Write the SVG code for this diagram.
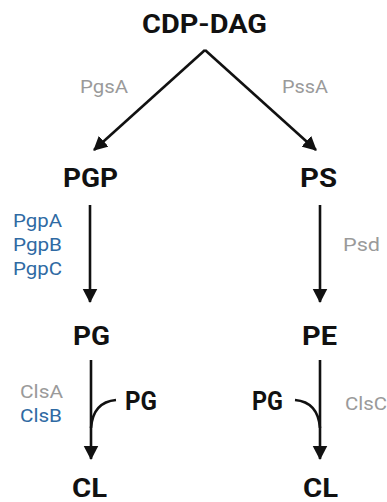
<svg xmlns="http://www.w3.org/2000/svg" width="387" height="502" viewBox="0 0 387 502">
<style>
text{font-family:Roboto,"Liberation Sans",sans-serif}
.n{font-weight:bold;fill:#111;text-anchor:middle;font-size:25px}
.g{fill:#9a9a9a;font-size:18px}
.b{fill:#2f6aa3;font-size:18px}
.ln{fill:none;stroke:#111;stroke-width:2.6}
</style>
<defs>
<marker id="ah" markerWidth="6" markerHeight="6" refX="5" refY="3" orient="auto" markerUnits="strokeWidth"><path d="M0,0.2 L5.4,3 L0,5.8 Z" fill="#111"/></marker>
<linearGradient id="gl" gradientUnits="userSpaceOnUse" x1="205" y1="50" x2="92" y2="152"><stop offset="0" stop-color="#111" stop-opacity="0"/><stop offset="0.45" stop-color="#111"/></linearGradient>
<linearGradient id="gr" gradientUnits="userSpaceOnUse" x1="205" y1="50" x2="318" y2="152"><stop offset="0" stop-color="#111" stop-opacity="0"/><stop offset="0.45" stop-color="#111"/></linearGradient>
<linearGradient id="cl" gradientUnits="userSpaceOnUse" x1="116" y1="400" x2="92" y2="425"><stop offset="0" stop-color="#111" stop-opacity="0.2"/><stop offset="0.6" stop-color="#111"/></linearGradient>
<linearGradient id="cr" gradientUnits="userSpaceOnUse" x1="295" y1="400" x2="320" y2="425"><stop offset="0" stop-color="#111" stop-opacity="0.2"/><stop offset="0.6" stop-color="#111"/></linearGradient>
</defs>
<g id="connectors">
<path class="ln" d="M205,50 L94,150" stroke="url(#gl)" marker-end="url(#ah)"/>
<path class="ln" d="M205,50 L316,150" stroke="url(#gr)" marker-end="url(#ah)"/>
<path class="ln" d="M90,205 L90,302" marker-end="url(#ah)"/>
<path class="ln" d="M320,205 L320,302" marker-end="url(#ah)"/>
<path class="ln" d="M91,360 L91,459" marker-end="url(#ah)"/>
<path class="ln" d="M320,360 L320,459" marker-end="url(#ah)"/>
<path class="ln" d="M116,400 Q93,402 91,428" stroke="url(#cl)"/>
<path class="ln" d="M295,400 Q318,402 320,428" stroke="url(#cr)"/>
</g>
<g id="n-cdpdag"><text class="n" x="204.5" y="33" font-size="26" textLength="125" lengthAdjust="spacingAndGlyphs">CDP-DAG</text></g>
<g id="n-pgp"><text class="n" x="90.5" y="187" textLength="55" lengthAdjust="spacingAndGlyphs">PGP</text></g>
<g id="n-ps"><text class="n" x="318.5" y="187" textLength="37" lengthAdjust="spacingAndGlyphs">PS</text></g>
<g id="n-pg"><text class="n" x="91.5" y="345" textLength="37" lengthAdjust="spacingAndGlyphs">PG</text></g>
<g id="n-pe"><text class="n" x="319.5" y="345" textLength="35" lengthAdjust="spacingAndGlyphs">PE</text></g>
<g id="n-cl1"><text class="n" x="89.5" y="497" textLength="35" lengthAdjust="spacingAndGlyphs">CL</text></g>
<g id="n-cl2"><text class="n" x="320.5" y="497" textLength="35" lengthAdjust="spacingAndGlyphs">CL</text></g>
<g id="n-pg-side1"><text class="n" x="141" y="410" textLength="32" lengthAdjust="spacingAndGlyphs">PG</text></g>
<g id="n-pg-side2"><text class="n" x="267.5" y="410" textLength="31" lengthAdjust="spacingAndGlyphs">PG</text></g>
<g id="labels">
<text class="g" x="80" y="93" textLength="48" lengthAdjust="spacingAndGlyphs">PgsA</text>
<text class="g" x="282" y="93" textLength="46" lengthAdjust="spacingAndGlyphs">PssA</text>
<text class="b" x="13" y="227" textLength="49" lengthAdjust="spacingAndGlyphs">PgpA</text>
<text class="b" x="13" y="251" textLength="49" lengthAdjust="spacingAndGlyphs">PgpB</text>
<text class="b" x="13" y="275" textLength="49" lengthAdjust="spacingAndGlyphs">PgpC</text>
<text class="g" x="343" y="251" textLength="37" lengthAdjust="spacingAndGlyphs">Psd</text>
<text class="g" x="20" y="398" textLength="43" lengthAdjust="spacingAndGlyphs">ClsA</text>
<text class="b" x="20" y="422" textLength="42" lengthAdjust="spacingAndGlyphs">ClsB</text>
<text class="g" x="345" y="410" textLength="42" lengthAdjust="spacingAndGlyphs">ClsC</text>
</g>
</svg>
